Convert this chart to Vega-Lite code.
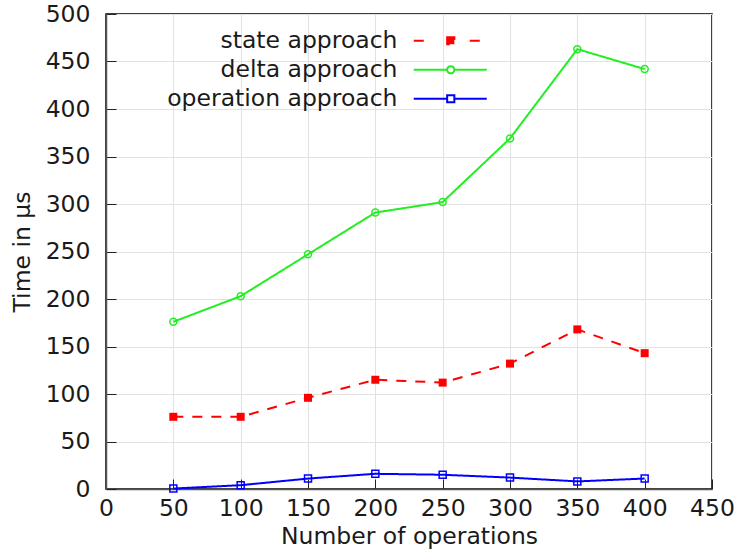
{
  "$schema": "https://vega.github.io/schema/vega-lite/v6.json",
  "width": 606,
  "height": 475,
  "autosize": "none",
  "padding": {"left": 106, "top": 14, "right": 28, "bottom": 61},
  "config": {
    "font": "DejaVu Sans",
    "view": {"stroke": "#000000", "strokeWidth": 1.5},
    "axis": {
      "grid": true,
      "gridColor": "#e2e2e2",
      "gridWidth": 1,
      "tickSize": -10,
      "tickColor": "#222222",
      "tickWidth": 1,
      "domainColor": "#555555",
      "domainWidth": 1.5,
      "labelFontSize": 23.5,
      "labelColor": "#1a1a1a",
      "labelFlush": false,
      "labelOverlap": false,
      "titleFontSize": 23.5,
      "titleFontWeight": "normal",
      "titleColor": "#1a1a1a"
    }
  },
  "data": {
    "values": [
      {"ops": 50, "series": "state approach", "time": 76},
      {"ops": 100, "series": "state approach", "time": 76},
      {"ops": 150, "series": "state approach", "time": 96},
      {"ops": 200, "series": "state approach", "time": 115},
      {"ops": 250, "series": "state approach", "time": 112},
      {"ops": 300, "series": "state approach", "time": 132},
      {"ops": 350, "series": "state approach", "time": 168},
      {"ops": 400, "series": "state approach", "time": 143},
      {"ops": 50, "series": "delta approach", "time": 176},
      {"ops": 100, "series": "delta approach", "time": 203},
      {"ops": 150, "series": "delta approach", "time": 247},
      {"ops": 200, "series": "delta approach", "time": 291},
      {"ops": 250, "series": "delta approach", "time": 302},
      {"ops": 300, "series": "delta approach", "time": 369},
      {"ops": 350, "series": "delta approach", "time": 463},
      {"ops": 400, "series": "delta approach", "time": 442},
      {"ops": 50, "series": "operation approach", "time": 0.5},
      {"ops": 100, "series": "operation approach", "time": 4},
      {"ops": 150, "series": "operation approach", "time": 11},
      {"ops": 200, "series": "operation approach", "time": 16},
      {"ops": 250, "series": "operation approach", "time": 15},
      {"ops": 300, "series": "operation approach", "time": 12},
      {"ops": 350, "series": "operation approach", "time": 8},
      {"ops": 400, "series": "operation approach", "time": 11}
    ]
  },
  "encoding": {
    "x": {
      "field": "ops",
      "type": "quantitative",
      "scale": {"domain": [0, 450], "nice": false, "zero": false},
      "axis": {
        "values": [0, 50, 100, 150, 200, 250, 300, 350, 400, 450],
        "title": "Number of operations",
        "labelPadding": 17,
        "titlePadding": 5
      }
    },
    "y": {
      "field": "time",
      "type": "quantitative",
      "scale": {"domain": [0, 500], "nice": false},
      "axis": {
        "values": [0, 50, 100, 150, 200, 250, 300, 350, 400, 450, 500],
        "title": "Time in μs",
        "labelPadding": 26,
        "titlePadding": 11
      }
    }
  },
  "layer": [
    {
      "mark": {"type": "line", "strokeWidth": 2},
      "encoding": {
        "color": {
          "field": "series",
          "type": "nominal",
          "scale": {
            "domain": ["state approach", "delta approach", "operation approach"],
            "range": ["#ff0000", "#22ee22", "#0000ff"]
          },
          "legend": {
            "title": null,
            "orient": "none",
            "legendX": 333,
            "legendY": 15,
            "labelFontSize": 23.5,
            "labelColor": "#1a1a1a",
            "labelAlign": "right",
            "labelOffset": -65,
            "labelLimit": 500,
            "symbolSize": 64,
            "symbolStrokeWidth": 2,
            "rowPadding": 4,
            "encode": {
              "symbols": {
                "update": {
                  "shape": {"signal": "datum.value === 'state approach' ? 'M-9.25,0H-6.5M4.75,0H7.5M-0.9,-0.9H0.9V0.9H-0.9Z' : datum.value === 'delta approach' ? 'M-9.25,0H-0.9M0.9,0H9M0.9,0C0.9,0.497,0.497,0.9,0,0.9C-0.497,0.9,-0.9,0.497,-0.9,0C-0.9,-0.497,-0.497,-0.9,0,-0.9C0.497,-0.9,0.9,-0.497,0.9,0Z' : 'M-9.25,0H-0.9M0.9,0H9M-0.9,-0.9H0.9V0.9H-0.9Z'"},
                  "fill": {"signal": "datum.value === 'state approach' ? '#ff0000' : 'transparent'"},
                  "strokeDash": {"value": []}
                }
              }
            }
          }
        },
        "strokeDash": {
          "field": "series",
          "type": "nominal",
          "scale": {
            "domain": ["state approach", "delta approach", "operation approach"],
            "range": [[10, 9], [1, 0], [1, 0]]
          },
          "legend": null
        }
      }
    },
    {
      "transform": [{"filter": "datum.series === 'state approach'"}],
      "mark": {"type": "point", "shape": "square", "filled": true, "color": "#ff0000", "size": 64, "opacity": 1}
    },
    {
      "transform": [{"filter": "datum.series === 'delta approach'"}],
      "mark": {"type": "point", "shape": "circle", "filled": false, "color": "#22ee22", "strokeWidth": 1.5, "size": 49, "opacity": 1}
    },
    {
      "transform": [{"filter": "datum.series === 'operation approach'"}],
      "mark": {"type": "point", "shape": "square", "filled": false, "color": "#0000ff", "strokeWidth": 1.5, "size": 49, "opacity": 1}
    }
  ]
}
